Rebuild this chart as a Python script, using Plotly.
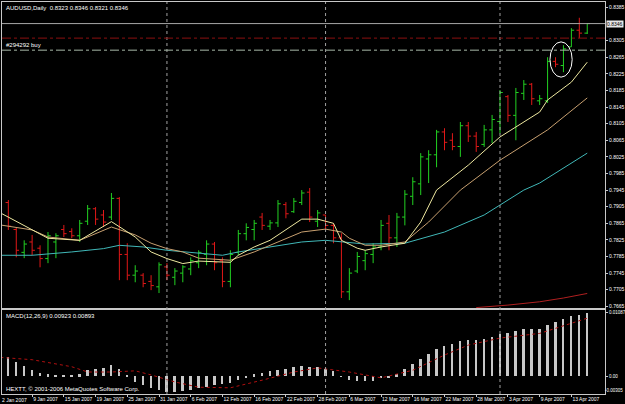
import plotly.graph_objects as go

# ---------------- data ----------------
bar_index = list(range(2, 76))  # trading-day index, 0 = 2 Jan 2007
opens = [.7915, .7850, .7795, .7820, .7805, .7780, .7820, .7850, .7845, .7835,
         .7870, .7900, .7885, .7880, .7925, .7790, .7740, .7740, .7725, .7712,
         .7760, .7735, .7745, .7755, .7770, .7790, .7815, .7775, .7725, .7795,
         .7840, .7850, .7880, .7858, .7866, .7910, .7893, .7915, .7940, .7870,
         .7885, .7860, .7830, .7700, .7750, .7775, .7790, .7808, .7865, .7830,
         .7880, .7930, .7960, .8020, .8030, .8085, .8065, .8050, .8100, .8075,
         .8055, .8090, .8110, .8170, .8125, .8178, .8200, .8160, .8160, .8255,
         .8245, .8290, .8330, .8323]
highs = [.7921, .7856, .7824, .7837, .7812, .7844, .7841, .7861, .7853, .7873,
         .7909, .7904, .7897, .7938, .7928, .7817, .7764, .7745, .7740, .7771,
         .7769, .7757, .7764, .7783, .7800, .7824, .7820, .7783, .7800, .7849,
         .7865, .7873, .7890, .7873, .7921, .7916, .7926, .7945, .7950, .7897,
         .7885, .7865, .7841, .7757, .7796, .7800, .7817, .7873, .7885, .7890,
         .7945, .7976, .8034, .8041, .8090, .8094, .8082, .8109, .8109, .8085,
         .8102, .8126, .8186, .8174, .8191, .8210, .8203, .8174, .8265, .8265,
         .8294, .8335, .8360, .8346]
lows = [.7849, .7783, .7781, .7788, .7759, .7769, .7781, .7832, .7829, .7820,
        .7861, .7861, .7856, .7873, .7728, .7728, .7723, .7711, .7704, .7697,
        .7728, .7716, .7723, .7740, .7757, .7764, .7752, .7711, .7711, .7788,
        .7824, .7824, .7849, .7849, .7856, .7877, .7890, .7909, .7868, .7856,
        .7849, .7817, .7685, .7680, .7745, .7752, .7769, .7800, .7800, .7808,
        .7860, .7909, .7933, .7962, .8000, .8041, .8041, .8025, .8061, .8037,
        .8049, .8058, .8082, .8109, .8065, .8162, .8150, .8150, .8155, .8241,
        .8229, .8290, .8311, .8321]
closes = [.7858, .7800, .7815, .7800, .7780, .7835, .7835, .7840, .7835, .7865,
          .7900, .7875, .7868, .7925, .7790, .7740, .7750, .7720, .7715, .7765,
          .7740, .7750, .7760, .7775, .7795, .7815, .7770, .7725, .7790, .7840,
          .7855, .7865, .7860, .7866, .7912, .7888, .7918, .7938, .7880, .7890,
          .7860, .7830, .7700, .7745, .7785, .7792, .7808, .7860, .7830, .7880,
          .7935, .7965, .8025, .8030, .8085, .8060, .8050, .8100, .8075, .8050,
          .8090, .8115, .8180, .8125, .8180, .8200, .8165, .8165, .8255, .8248,
          .8285, .8330, .8323, .8346]

# moving averages at selected bars
ma_fast_idx = [1, 5, 7, 11, 15, 18, 20, 22, 24, 26, 30, 31, 33, 35, 37, 39, 41, 43,
               44, 46, 47, 49, 52, 54, 56, 60, 64, 66, 69, 70, 73, 75]
ma_fast_val = [.7890, .7849, .7829, .7824, .7869, .7832, .7796, .7780, .7768, .7774,
               .7771, .7788, .7808, .7824, .7849, .7875, .7875, .7865, .7824, .7805,
               .7800, .7808, .7817, .7868, .7945, .8005, .8073, .8097, .8133, .8162,
               .8205, .8253]
ma_mid_idx = [1, 5, 7, 11, 15, 18, 20, 22, 24, 26, 30, 33, 36, 39, 42, 44, 45, 47,
              49, 52, 55, 59, 64, 70, 75]
ma_mid_val = [.7861, .7849, .7832, .7824, .7856, .7837, .7817, .7804, .7796, .7781,
              .7776, .7796, .7820, .7844, .7851, .7844, .7829, .7812, .7812, .7820,
              .7868, .7945, .8017, .8090, .8167]
ma_slow_idx = [1, 5, 10, 14, 16, 19, 22, 26, 29, 31, 35, 39, 42, 44, 47, 52, 57, 62,
               67, 69, 75]
ma_slow_val = [.7788, .7788, .7796, .7804, .7812, .7808, .7800, .7793, .7788, .7796,
               .7808, .7820, .7824, .7820, .7815, .7817, .7844, .7885, .7945, .7962,
               .8034]
ma_long_idx = [61, 65, 69, 72, 75]
ma_long_val = [.7662, .7668, .7676, .7685, .7696]

macd_hist = [.00328, .00243, .0017, .00102, .00056, .00034, .00017, .0001, .0001, .0003,
             .00102, .0013, .00147, .00187, .0013, .0001, -.00096, -.00153, -.0021, -.00238,
             -.00266, -.00266, -.0025, -.0024, -.0021, -.0018, -.0015, -.0014, -.0012, -.0006,
             -.0002, .0003, .0006, .0008, .0011, .0013, .0015, .0018, .0016, .0015,
             .0012, .0008, -.0001, -.0006, -.0008, -.0009, -.0008, -.0004, -.0002, .0003,
             .0012, .0020, .0030, .0038, .0047, .0052, .0055, .0060, .0062, .0061,
             .0063, .0066, .0072, .0073, .0077, .0080, .0080, .0080, .0088, .0092,
             .0098, .0102, .0104, .0108]
signal_idx = [1, 5, 10, 12, 15, 18, 20, 23, 26, 30, 34, 38, 41, 45, 49, 53, 57, 60, 64, 69, 75]
signal_val = [.0032, .0028, .0016, .0007, .0007, .0009, .0002, -.0010, -.0019, -.0020,
              -.0007, .0007, .0014, .0007, -.0003, .0010, .0036, .0053, .0065, .0073, .0099]

price_ticks = [0.7665, 0.7705, 0.7745, 0.7785, 0.7825, 0.7865, 0.7905, 0.7945, 0.7985,
               0.8025, 0.8065, 0.8105, 0.8145, 0.8185, 0.8225, 0.8265, 0.8305, 0.8385]
macd_ticks = [0.01087, 0.0]
macd_tick_text = ["0.01087", "0.00"]
macd_min_label = "-0.00305"
macd_min_value = -0.0025
date_idx = [5, 9, 13, 17, 21, 25, 29, 33, 37, 41, 45, 49, 53, 57, 61, 65, 69, 73]
date_text = ["9 Jan 2007", "15 Jan 2007", "19 Jan 2007", "25 Jan 2007", "31 Jan 2007",
             "6 Feb 2007", "12 Feb 2007", "16 Feb 2007", "22 Feb 2007", "28 Feb 2007",
             "6 Mar 2007", "12 Mar 2007", "16 Mar 2007", "22 Mar 2007", "28 Mar 2007",
             "3 Apr 2007", "9 Apr 2007", "13 Apr 2007"]
month_starts = [22, 42, 64]
bid_price = 0.8346
sl_price = 0.8311
order_price = 0.8282

FONT = "Liberation Sans"
fig = go.Figure()

fig.add_trace(go.Ohlc(x=bar_index, open=opens, high=highs, low=lows, close=closes,
                      increasing=dict(line=dict(color="#22d022", width=1)),
                      decreasing=dict(line=dict(color="#e01818", width=1)),
                      tickwidth=0.35, xaxis="x", yaxis="y", hoverinfo="skip"))
fig.add_trace(go.Scatter(x=ma_slow_idx, y=ma_slow_val, mode="lines",
                         line=dict(color="#40b8b8", width=1), xaxis="x", yaxis="y"))
fig.add_trace(go.Scatter(x=ma_mid_idx, y=ma_mid_val, mode="lines",
                         line=dict(color="#c8a070", width=1), xaxis="x", yaxis="y"))
fig.add_trace(go.Scatter(x=ma_fast_idx, y=ma_fast_val, mode="lines",
                         line=dict(color="#eee8a0", width=1), xaxis="x", yaxis="y"))
fig.add_trace(go.Scatter(x=ma_long_idx, y=ma_long_val, mode="lines",
                         line=dict(color="#b02020", width=1), xaxis="x", yaxis="y"))

fig.add_trace(go.Bar(x=bar_index, y=macd_hist, width=0.25,
                     marker=dict(color="#c8c8c8", line=dict(width=0)),
                     xaxis="x2", yaxis="y2"))
fig.add_trace(go.Scatter(x=signal_idx, y=signal_val, mode="lines",
                         line=dict(color="#b01010", width=1, dash="dot"),
                         xaxis="x2", yaxis="y2"))

shapes = []
for m in month_starts:
    shapes.append(dict(type="line", xref="x", yref="paper", x0=m, x1=m, y0=0, y1=1,
                       line=dict(color="#a0a0a0", width=1, dash="dot")))
shapes.append(dict(type="line", xref="paper", yref="y", x0=0, x1=1, y0=bid_price, y1=bid_price,
                   line=dict(color="#a8a8a8", width=1)))
shapes.append(dict(type="line", xref="paper", yref="y", x0=0, x1=1, y0=sl_price, y1=sl_price,
                   line=dict(color="#8c1010", width=1, dash="dashdot")))
shapes.append(dict(type="line", xref="paper", yref="y", x0=0, x1=1, y0=order_price, y1=order_price,
                   line=dict(color="#a8b8a8", width=1, dash="dashdot")))
shapes.append(dict(type="circle", xref="x", yref="y", x0=70.3, x1=73.1, y0=0.8217, y1=0.8302,
                   line=dict(color="#ffffff", width=1)))

annotations = [
    dict(text="AUDUSD,Daily  0.8323 0.8346 0.8321 0.8346", xref="paper", yref="paper",
         x=0.003, y=1, xanchor="left", yanchor="top", showarrow=False, yshift=-1,
         font=dict(family=FONT, size=6, color="#ffffff")),
    dict(text="#294292 buy", xref="paper", yref="y", x=0.003, y=order_price,
         xanchor="left", yanchor="bottom", showarrow=False,
         font=dict(family=FONT, size=6, color="#ffffff")),
    dict(text="MACD(12,26,9) 0.00923 0.00893", xref="paper", yref="y2 domain",
         x=0.003, y=1, xanchor="left", yanchor="top", showarrow=False, yshift=-1,
         font=dict(family=FONT, size=6, color="#ffffff")),
    dict(text="HEXTT, © 2001-2006 MetaQuotes Software Corp.", xref="paper", yref="y2 domain",
         x=0.003, y=0, xanchor="left", yanchor="bottom", showarrow=False,
         font=dict(family=FONT, size=6, color="#ffffff")),
    dict(text="0.8346", xref="paper", yref="y", x=1, y=bid_price, xanchor="left",
         yanchor="middle", showarrow=False, bgcolor="#e8e8e8", borderpad=0, xshift=1,
         font=dict(family=FONT, size=5, color="#000000")),
    dict(text=macd_min_label, xref="paper", yref="y2", x=1.0325, y=macd_min_value,
         xanchor="right", yanchor="middle", showarrow=False,
         font=dict(family=FONT, size=4.5, color="#ffffff")),
    dict(text="2 Jan 2007", xref="paper", yref="paper", x=0, y=0, xanchor="left",
         yanchor="top", showarrow=False, yshift=-1, xshift=-2,
         font=dict(family=FONT, size=5, color="#ffffff")),
]

axis_line = "#c8c8c8"
fig.update_layout(
    width=625, height=404,
    margin=dict(l=2, r=20, t=2, b=10, autoexpand=False),
    paper_bgcolor="#000000", plot_bgcolor="#000000",
    showlegend=False, bargap=0,
    shapes=shapes, annotations=annotations,
    xaxis=dict(domain=[0, 1], range=[1.2, 77.24], anchor="y", showticklabels=False,
               showgrid=False, zeroline=False, showline=True, mirror=True, automargin=False,
               linecolor=axis_line, linewidth=1, rangeslider=dict(visible=False), ticks=""),
    yaxis=dict(domain=[0.2194, 1], range=[0.7661, 0.8398], side="right", automargin=False,
               tickvals=price_ticks, ticktext=[f"{v:.4f}" for v in price_ticks],
               tickfont=dict(family=FONT, size=5, color="#ffffff"),
               ticks="outside", ticklen=2, tickcolor=axis_line,
               showgrid=False, zeroline=False, showline=True, mirror=True,
               linecolor=axis_line, linewidth=1, anchor="x"),
    xaxis2=dict(domain=[0, 1], range=[1.2, 77.24], anchor="y2", matches="x", automargin=False,
                tickvals=date_idx, ticktext=date_text, ticklabelposition="outside right",
                tickangle=0,
                tickfont=dict(family=FONT, size=5, color="#ffffff"),
                ticks="outside", ticklen=2, tickcolor=axis_line,
                showgrid=False, zeroline=False, showline=True, mirror=True,
                linecolor=axis_line, linewidth=1),
    yaxis2=dict(domain=[0, 0.2143], range=[-0.00306, 0.0113], side="right", automargin=False,
                tickvals=macd_ticks, ticktext=macd_tick_text,
                tickfont=dict(family=FONT, size=4.5, color="#ffffff"),
                ticks="outside", ticklen=2, tickcolor=axis_line,
                showgrid=False, zeroline=False, showline=True, mirror=True,
                linecolor=axis_line, linewidth=1, anchor="x2"),
)

fig.write_html("out.html")
